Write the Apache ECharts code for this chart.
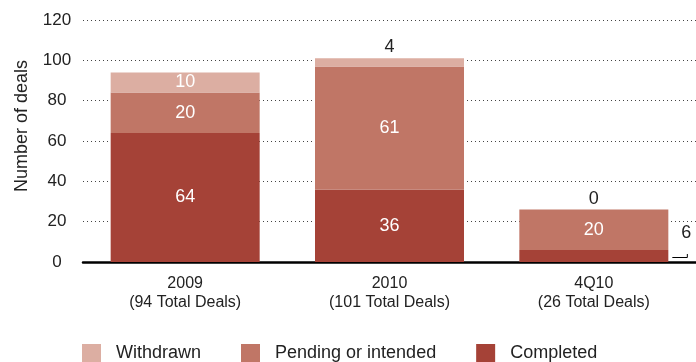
<!DOCTYPE html>
<html>
<head>
<meta charset="utf-8">
<style>html,body{margin:0;padding:0;background:#fff;}#c{width:696px;height:362px;}</style>
<script src="https://cdn.jsdelivr.net/npm/echarts@6/dist/echarts.min.js"></script>
</head>
<body>
<div id="c"></div>
<script>
var categories = ['2009\n(94 Total Deals)', '2010\n(101 Total Deals)', '4Q10\n(26 Total Deals)'];
var completed = [64, 36, 6];
var pending = [20, 61, 20];
var withdrawn = [10, 4, 0];
var yTicks = [0, 20, 40, 60, 80, 100, 120];
var seriesNames = ['Completed', 'Pending or intended', 'Withdrawn'];

var FONT = '"Liberation Sans", Arial, Helvetica, sans-serif';
var colors = {'Completed': '#a54237', 'Pending or intended': '#c07666', 'Withdrawn': '#dcaea2'};

var insideLabel = {show: true, position: 'inside', color: '#fff', fontSize: 18, fontFamily: FONT};
var topLabel = {show: true, position: 'top', distance: 2, color: '#222', fontSize: 18, fontFamily: FONT};
var sideLabel = {show: true, position: [162, -17], align: 'left', verticalAlign: 'middle', color: '#222', fontSize: 18, fontFamily: FONT};

function items(values, labelFor) {
  return values.map(function (v, i) {
    return {value: v, label: labelFor(i)};
  });
}

var titleGraphic = {
  type: 'text', left: 13, top: 60, rotation: Math.PI / 2,
  style: {text: 'Number of deals', fontSize: 18, fill: '#222', fontFamily: FONT}
};

var chart = echarts.init(document.getElementById('c'), null, {renderer: 'canvas'});
chart.setOption({
  animation: false,
  textStyle: {fontFamily: FONT},
  grid: {left: 83, width: 620, top: 20, bottom: 100, containLabel: false},
  legend: {
    data: ['Withdrawn', 'Pending or intended', 'Completed'],
    left: 82, top: 344, padding: 0,
    itemWidth: 19, itemHeight: 18, itemGap: 40,
    icon: 'rect',
    textStyle: {fontSize: 18, color: '#222', fontFamily: FONT, padding: [0, 0, 0, 10]}
  },
  xAxis: {
    type: 'category',
    data: categories,
    axisLine: {show: true, lineStyle: {color: '#000', width: 2.5}},
    axisTick: {show: false},
    axisLabel: {fontSize: 16, color: '#222', lineHeight: 19, margin: 12, fontFamily: FONT, interval: 0}
  },
  yAxis: {
    type: 'value',
    min: yTicks[0], max: yTicks[yTicks.length - 1], interval: 20,
    axisLine: {show: false},
    axisTick: {show: false},
    axisLabel: {fontSize: 17, color: '#222', margin: 26, align: 'center', fontFamily: FONT},
    splitLine: {show: true, lineStyle: {color: '#444', width: 1, type: [1, 3]}}
  },
  series: [
    {
      name: seriesNames[0], type: 'bar', stack: 'deals', barWidth: 149,
      itemStyle: {color: colors['Completed']},
      data: items(completed, function (i) { return i === 2 ? sideLabel : insideLabel; })
    },
    {
      name: seriesNames[1], type: 'bar', stack: 'deals', barWidth: 149,
      itemStyle: {color: colors['Pending or intended']},
      data: items(pending, function () { return insideLabel; })
    },
    {
      name: seriesNames[2], type: 'bar', stack: 'deals', barWidth: 149,
      itemStyle: {color: colors['Withdrawn']},
      data: items(withdrawn, function (i) { return i === 0 ? insideLabel : topLabel; })
    }
  ],
  graphic: [titleGraphic]
});

// leader line for the small "6" label, placed from the bar's pixel position
var p = chart.convertToPixel({xAxisIndex: 0, yAxisIndex: 0}, [2, 0]);
var right = p[0] + 149 / 2;
chart.setOption({
  graphic: [titleGraphic, {
    type: 'polyline',
    shape: {points: [[right + 4, p[1] - 4.5], [right + 19, p[1] - 4.5], [right + 19, p[1] - 8]]},
    style: {stroke: '#000', lineWidth: 1, fill: null}
  }]
});
</script>
</body>
</html>
